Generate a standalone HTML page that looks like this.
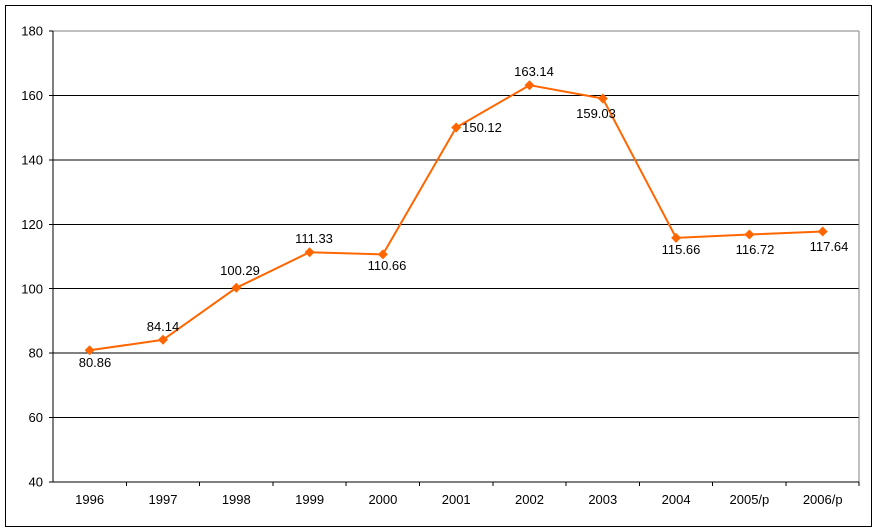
<!DOCTYPE html>
<html><head><meta charset="utf-8"><style>
html,body{margin:0;padding:0;background:#fff;}
svg{display:block;font-family:"Liberation Sans",Arial,sans-serif;font-size:13px;}
</style></head><body>
<svg width="876" height="530" viewBox="0 0 876 530" xmlns="http://www.w3.org/2000/svg">
<rect x="5.5" y="5.5" width="866" height="521" fill="#fff" stroke="#000"/>
<g stroke="#000" stroke-width="1" shape-rendering="crispEdges">
<line x1="53" y1="95.4" x2="859" y2="95.4"/>
<line x1="53" y1="159.9" x2="859" y2="159.9"/>
<line x1="53" y1="224.3" x2="859" y2="224.3"/>
<line x1="53" y1="288.7" x2="859" y2="288.7"/>
<line x1="53" y1="353.1" x2="859" y2="353.1"/>
<line x1="53" y1="417.6" x2="859" y2="417.6"/>
<line x1="53" y1="31" x2="859" y2="31" stroke="#808080"/>
<line x1="859" y1="31" x2="859" y2="482" stroke="#808080"/>
<line x1="53" y1="31" x2="53" y2="482"/>
<line x1="49" y1="482" x2="859" y2="482"/>
<line x1="49" y1="31" x2="53" y2="31"/><line x1="49" y1="95.4" x2="53" y2="95.4"/><line x1="49" y1="159.9" x2="53" y2="159.9"/><line x1="49" y1="224.3" x2="53" y2="224.3"/><line x1="49" y1="288.7" x2="53" y2="288.7"/><line x1="49" y1="353.1" x2="53" y2="353.1"/><line x1="49" y1="417.6" x2="53" y2="417.6"/>
<line x1="126.3" y1="482" x2="126.3" y2="486"/><line x1="199.6" y1="482" x2="199.6" y2="486"/><line x1="272.9" y1="482" x2="272.9" y2="486"/><line x1="346.2" y1="482" x2="346.2" y2="486"/><line x1="419.5" y1="482" x2="419.5" y2="486"/><line x1="492.8" y1="482" x2="492.8" y2="486"/><line x1="566.1" y1="482" x2="566.1" y2="486"/><line x1="639.4" y1="482" x2="639.4" y2="486"/><line x1="712.7" y1="482" x2="712.7" y2="486"/><line x1="786" y1="482" x2="786" y2="486"/><line x1="859" y1="482" x2="859" y2="486"/>
</g>
<g text-anchor="end" fill="#000">
<text x="43" y="35.5">180</text><text x="43" y="100">160</text><text x="43" y="164.5">140</text><text x="43" y="229">120</text><text x="43" y="293.5">100</text><text x="43" y="357.5">80</text><text x="43" y="422">60</text><text x="43" y="486.5">40</text>
</g>
<g text-anchor="middle" fill="#000">
<text x="89.6" y="504">1996</text><text x="163" y="504">1997</text><text x="236.3" y="504">1998</text><text x="309.6" y="504">1999</text><text x="382.9" y="504">2000</text><text x="456.2" y="504">2001</text><text x="529.5" y="504">2002</text><text x="602.8" y="504">2003</text><text x="676.1" y="504">2004</text><text x="749.4" y="504">2005/p</text><text x="822.7" y="504">2006/p</text>
</g>
<polyline fill="none" stroke="#FF6600" stroke-width="2" points="89.6,350.3 163,339.8 236.3,287.8 309.6,252.2 382.9,254.4 456.2,127.5 529.5,85.2 602.8,98.5 676.1,237.9 749.4,234.5 822.7,231.5"/>
<g fill="#FF6600">
<path d="M89.6 345.3l5 5-5 5-5-5z"/><path d="M163 334.8l5 5-5 5-5-5z"/><path d="M236.3 282.8l5 5-5 5-5-5z"/><path d="M309.6 247.2l5 5-5 5-5-5z"/><path d="M382.9 249.4l5 5-5 5-5-5z"/><path d="M456.2 122.5l5 5-5 5-5-5z"/><path d="M529.5 80.2l5 5-5 5-5-5z"/><path d="M602.8 93.5l5 5-5 5-5-5z"/><path d="M676.1 232.9l5 5-5 5-5-5z"/><path d="M749.4 229.5l5 5-5 5-5-5z"/><path d="M822.7 226.5l5 5-5 5-5-5z"/>
</g>
<g text-anchor="middle" fill="#000">
<text x="95" y="367">80.86</text><text x="163" y="331">84.14</text><text x="240" y="275">100.29</text><text x="314" y="243">111.33</text><text x="387" y="270">110.66</text><text x="482" y="132">150.12</text><text x="534" y="76">163.14</text><text x="596" y="118">159.03</text><text x="681" y="254">115.66</text><text x="755" y="254">116.72</text><text x="829" y="251">117.64</text>
</g>
</svg>
</body></html>
